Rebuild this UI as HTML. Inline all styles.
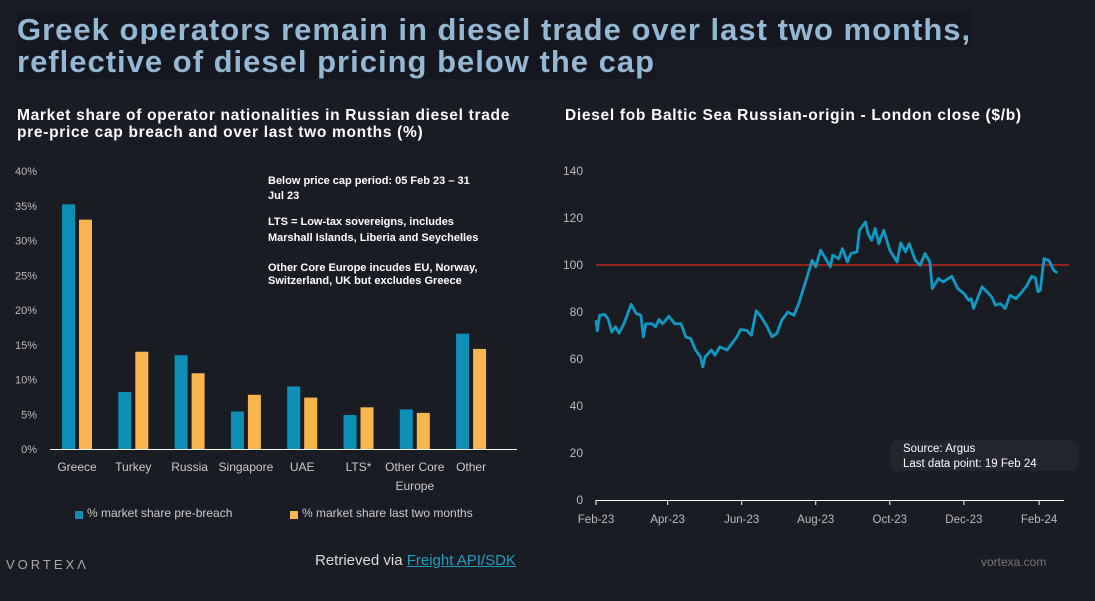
<!DOCTYPE html>
<html><head><meta charset="utf-8">
<style>
body{margin:0;background:#1a1c24;width:1095px;height:601px;overflow:hidden;font-family:"Liberation Sans",sans-serif;position:relative}
.t{position:absolute;left:17px;top:14px;color:#94b8d4;font-weight:bold;font-size:31px;line-height:32px;letter-spacing:1px}
.t span{background:#141720}
.st{position:absolute;color:#fff;font-weight:bold;font-size:15.5px;line-height:17px;letter-spacing:0.7px}
svg{position:absolute;left:0;top:0}
</style></head><body>
<div class="t"><span>Greek operators remain in diesel trade over last two months,</span><br><span>reflective of diesel pricing below the cap</span></div>
<div class="st" style="left:17px;top:107px">Market share of operator nationalities in Russian diesel trade<br>pre-price cap breach and over last two months (%)</div>
<div class="st" style="left:565px;top:107px">Diesel fob Baltic Sea Russian-origin - London close ($/b)</div>
<svg id="s" width="1095" height="601"></svg>
<div style="position:absolute;left:6px;top:557px;color:#aaa;font-size:13px;letter-spacing:3px">VORTEXΛ</div>
<div style="position:absolute;left:315px;top:552px;color:#ddd;font-size:15px">Retrieved via <span style="color:#1e9fc4;text-decoration:underline">Freight API/SDK</span></div>
<div style="position:absolute;left:981px;top:555px;color:#777;font-size:12px">vortexa.com</div>
<script>
const categories=["Greece","Turkey","Russia","Singapore","UAE","LTS*","Other Core|Europe","Other"];
const preBreach=[35.2,8.2,13.5,5.4,9.0,4.9,5.7,16.6];
const lastTwo=[33.0,14.0,10.9,7.8,7.4,6.0,5.2,14.4];
const yTicks=[0,5,10,15,20,25,30,35,40];
const days=[0,1,3,7,10,13,16,19,23,29,33,37,39,41,46,49,52,55,60,65,70,74,78,82,86,88,90,95,98,102,108,112,116,119,124,128,132,136,141,145,149,153,158,163,167,170,173,176,178,181,185,190,193,195,200,203,207,210,215,217,222,224,227,230,233,237,242,248,251,255,258,263,267,271,275,277,282,286,293,298,303,307,309,311,318,322,326,329,333,337,341,346,351,355,359,362,364,366,369,373,377,380];
const prices=[76.5,72,78.6,79,77,71.5,73.7,71,75,83.3,79.4,78.6,69.4,75,75,73.7,76.8,75,78.2,75,75,69.4,68.7,63.8,61,56.7,61,63.8,61.6,65.2,63.8,66.6,69.4,72.5,72.2,70.1,80.5,78,73.7,69.4,70.9,76.5,80,78.6,83.6,88.6,93.5,98.5,102,99.2,106.3,102,99.2,104.2,102.7,107,101.3,104.9,105.6,114.8,118.3,113.4,110.5,115.5,109.1,114.8,106.3,101.3,109.4,105.6,109.1,102,99.9,104.9,101.3,90,94.2,92.8,95.2,90,87.9,85,85.7,81.5,90.7,88.6,86.4,82.9,83.6,81.5,87.1,85.7,88.6,91.4,95.2,94.5,88.6,89.3,102.7,102,97.8,96.6];
const priceTicks=[0,20,40,60,80,100,120,140];
const monthLabels=["Feb-23","Apr-23","Jun-23","Aug-23","Oct-23","Dec-23","Feb-24"];
const monthDays=[0,59,120,181,242,303,365];
const capValue=100;

const NS="http://www.w3.org/2000/svg",S=document.getElementById('s');
function mk(t,a,txt){const e=document.createElementNS(NS,t);for(const k in a)e.setAttribute(k,a[k]);if(txt!==undefined)e.textContent=txt;S.appendChild(e);return e;}
// bar chart
const by=v=>449-v*6.95, bx=i=>77+i*56.3;
yTicks.forEach(v=>{const e=mk('text',{x:37,y:by(v)+4,fill:'#bbb','font-size':11,'text-anchor':'end'},v+'%');

});
categories.forEach((c,i)=>{
 const a=mk('rect',{x:bx(i)-15,y:by(preBreach[i]),width:13,height:preBreach[i]*6.95,fill:'#0e8fb8'});
 
 
 const b=mk('rect',{x:bx(i)+2,y:by(lastTwo[i]),width:13,height:lastTwo[i]*6.95,fill:'#f9b64e'});
 
 
 c.split('|').forEach((p,j)=>{const t=mk('text',{x:bx(i),y:471+j*19,fill:'#ccc','font-size':12,'text-anchor':'middle'},p);
 
 });
});
const ax=mk('line',{x1:50,x2:517,y1:449.5,y2:449.5,stroke:'#fff','stroke-width':1});


[[75,'#0e8fb8','% market share pre-breach'],[290,'#f9b64e','% market share last two months']].forEach(l=>{
 const r=mk('rect',{x:l[0],y:511,width:8,height:8,fill:l[1]});
 
 
 const t=mk('text',{x:l[0]+12,y:517,fill:'#ccc','font-size':12},l[2]);
 
 });
["Below price cap period: 05 Feb 23 – 31","Jul 23","","LTS = Low-tax sovereigns, includes","Marshall Islands, Liberia and Seychelles","","Other Core Europe incudes EU, Norway,","Switzerland, UK but excludes Greece"].forEach((s,i)=>{
 if(!s)return;const t=mk('text',{x:268,y:[184,199,0,225,241,0,271,284][i],fill:'#fff','font-size':11,'font-weight':'bold'},s);
 
 });
// line chart
const ly=v=>500-v*2.35, lx=d=>596+d*1.214;
priceTicks.forEach(v=>{const t=mk('text',{x:583,y:ly(v)+4,fill:'#bbb','font-size':12,'text-anchor':'end'},v);

});
const la=mk('line',{x1:596,x2:1064,y1:500.5,y2:500.5,stroke:'#fff','stroke-width':1});


monthDays.forEach((d,i)=>{mk('line',{x1:lx(d),x2:lx(d),y1:500,y2:505,stroke:'#fff'});
 const t=mk('text',{x:lx(d),y:523,fill:'#bbb','font-size':11.5,'text-anchor':'middle'},monthLabels[i]);
 
 });
const cap=mk('line',{x1:596,x2:1069,y1:ly(capValue),y2:ly(capValue),stroke:'#e0281e','stroke-width':1.2});


const pl=mk('polyline',{points:days.map((d,i)=>lx(d)+','+ly(prices[i])).join(' '),fill:'none',stroke:'#0e9ac4','stroke-width':2.8,'stroke-linejoin':'round'});


const box=mk('rect',{x:890,y:440,width:189,height:31,rx:8,fill:'#22252e'});


const s1=mk('text',{x:903,y:452,fill:'#fff','font-size':11.5},'Source: Argus');


const s2=mk('text',{x:903,y:467,fill:'#fff','font-size':11.5},'Last data point: 19 Feb 24');


</script>
</body></html>
